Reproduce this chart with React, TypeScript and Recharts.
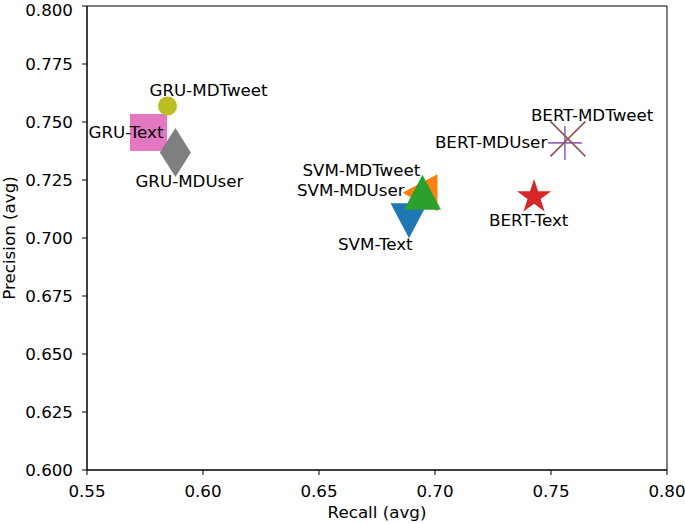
import React from "react";
import {
  ScatterChart,
  Scatter,
  XAxis,
  YAxis,
  ReferenceArea,
} from "recharts";

// one point per model / feature set
const labels = [
  "SVM-Text",
  "SVM-MDUser",
  "SVM-MDTweet",
  "BERT-Text",
  "BERT-MDUser",
  "BERT-MDTweet",
  "GRU-Text",
  "GRU-MDUser",
  "GRU-MDTweet",
];
const recall = [0.6888, 0.6935, 0.6946, 0.7427, 0.756, 0.7573, 0.5765, 0.5881, 0.5847];
const precision = [0.7074, 0.7195, 0.7197, 0.7177, 0.741, 0.7427, 0.7455, 0.7369, 0.7569];

const xTicks = [0.55, 0.6, 0.65, 0.7, 0.75, 0.8];
const yTicks = [0.6, 0.625, 0.65, 0.675, 0.7, 0.725, 0.75, 0.775, 0.8];

// styling
const markers = [
  "triangleDown",
  "triangleLeft",
  "triangleUp",
  "star",
  "plus",
  "cross",
  "square",
  "thinDiamond",
  "circle",
];
const colors = [
  "#1f77b4",
  "#ff7f0e",
  "#2ca02c",
  "#d62728",
  "#9467bd",
  "#8c564b",
  "#e377c2",
  "#7f7f7f",
  "#bcbd22",
];
// label text offset from the marker centre, in px
const labelOffsets: [number, number][] = [
  [-71, 29],
  [-123, 3],
  [-120, -16],
  [-45, 29],
  [-130, 5],
  [-37, -18],
  [-60, 6],
  [-40, 35],
  [-18, -10],
];

const FONT = 16.7;

const points = labels.map((name, i) => ({
  name,
  x: recall[i],
  y: precision[i],
  kind: markers[i],
  color: colors[i],
  dx: labelOffsets[i][0],
  dy: labelOffsets[i][1],
}));

function starPoints(cx: number, cy: number, r: number) {
  const pts: string[] = [];
  for (let k = 0; k < 10; k++) {
    const rad = k % 2 === 0 ? r : r * 0.382;
    const a = -Math.PI / 2 + (k * Math.PI) / 5;
    pts.push(`${cx + rad * Math.cos(a)},${cy + rad * Math.sin(a)}`);
  }
  return pts.join(" ");
}

function Marker(props: any) {
  const { cx, cy, payload } = props;
  const c = payload.color;
  switch (payload.kind) {
    case "circle":
      return <circle cx={cx} cy={cy} r={9.5} fill={c} />;
    case "square":
      return <rect x={cx - 18.5} y={cy - 18.5} width={37} height={37} fill={c} />;
    case "thinDiamond":
      return (
        <polygon
          points={`${cx},${cy - 24.5} ${cx + 15.5},${cy} ${cx},${cy + 24.5} ${cx - 15.5},${cy}`}
          fill={c}
        />
      );
    case "triangleUp":
      return (
        <polygon
          points={`${cx},${cy - 17.5} ${cx + 18.5},${cy + 17.5} ${cx - 18.5},${cy + 17.5}`}
          fill={c}
        />
      );
    case "triangleDown":
      return (
        <polygon
          points={`${cx - 18.5},${cy - 17.5} ${cx + 18.5},${cy - 17.5} ${cx},${cy + 17.5}`}
          fill={c}
        />
      );
    case "triangleLeft":
      return (
        <polygon
          points={`${cx - 17.5},${cy} ${cx + 17.5},${cy - 18.5} ${cx + 17.5},${cy + 18.5}`}
          fill={c}
        />
      );
    case "star":
      return <polygon points={starPoints(cx, cy, 18)} fill={c} />;
    case "plus":
      return (
        <g stroke={c} strokeWidth={1.6}>
          <line x1={cx - 17} y1={cy} x2={cx + 17} y2={cy} />
          <line x1={cx} y1={cy - 17} x2={cx} y2={cy + 17} />
        </g>
      );
    case "cross":
      return (
        <g stroke={c} strokeWidth={1.6}>
          <line x1={cx - 17.5} y1={cy - 17.5} x2={cx + 17.5} y2={cy + 17.5} />
          <line x1={cx - 17.5} y1={cy + 17.5} x2={cx + 17.5} y2={cy - 17.5} />
        </g>
      );
    default:
      return null;
  }
}

function PointLabel(props: any) {
  const { cx, cy, payload } = props;
  return (
    <text x={cx + payload.dx} y={cy + payload.dy} fontSize={FONT} fill="#000" textAnchor="start">
      {payload.name}
    </text>
  );
}

function XTitle(props: any) {
  const vb = props.viewBox;
  return (
    <text x={vb.x + vb.width / 2} y={vb.y + 48} fontSize={FONT} fill="#000" textAnchor="middle">
      Recall (avg)
    </text>
  );
}

function YTitle(props: any) {
  const vb = props.viewBox;
  const x = vb.x + 15;
  const y = vb.y + vb.height / 2;
  return (
    <text
      x={x}
      y={y}
      fontSize={FONT}
      fill="#000"
      textAnchor="middle"
      transform={`rotate(-90, ${x}, ${y})`}
    >
      Precision (avg)
    </text>
  );
}

export default function App() {
  return (
    <div
      style={{
        position: "absolute",
        left: 0,
        top: 0,
        width: 685,
        height: 524,
        background: "#fff",
        fontFamily: "'DejaVu Sans', sans-serif",
      }}
    >
      <ScatterChart width={685} height={524} margin={{ top: 6, right: 18, bottom: 0, left: 0 }}>
        <XAxis
          type="number"
          dataKey="x"
          domain={[0.55, 0.8]}
          ticks={xTicks}
          tickFormatter={(v: number) => v.toFixed(2)}
          height={54}
          tickSize={5}
          tickMargin={10}
          stroke="#000"
          tick={{ fill: "#000", fontSize: FONT }}
          label={<XTitle />}
        />
        <YAxis
          type="number"
          dataKey="y"
          domain={[0.6, 0.8]}
          ticks={yTicks}
          tickFormatter={(v: number) => v.toFixed(3)}
          width={87}
          tickSize={5}
          tickMargin={9}
          stroke="#000"
          tick={{ fill: "#000", fontSize: FONT }}
          label={<YTitle />}
        />
        <ReferenceArea
          x1={0.55}
          x2={0.8}
          y1={0.6}
          y2={0.8}
          fill="none"
          stroke="#000"
          strokeWidth={1}
          fillOpacity={0}
        />
        {points.map((p) => (
          <Scatter
            key={p.name}
            name={p.name}
            data={[p]}
            shape={<Marker />}
            isAnimationActive={false}
          />
        ))}
        <Scatter
          name="labels"
          data={points}
          shape={<PointLabel />}
          isAnimationActive={false}
        />
      </ScatterChart>
    </div>
  );
}
